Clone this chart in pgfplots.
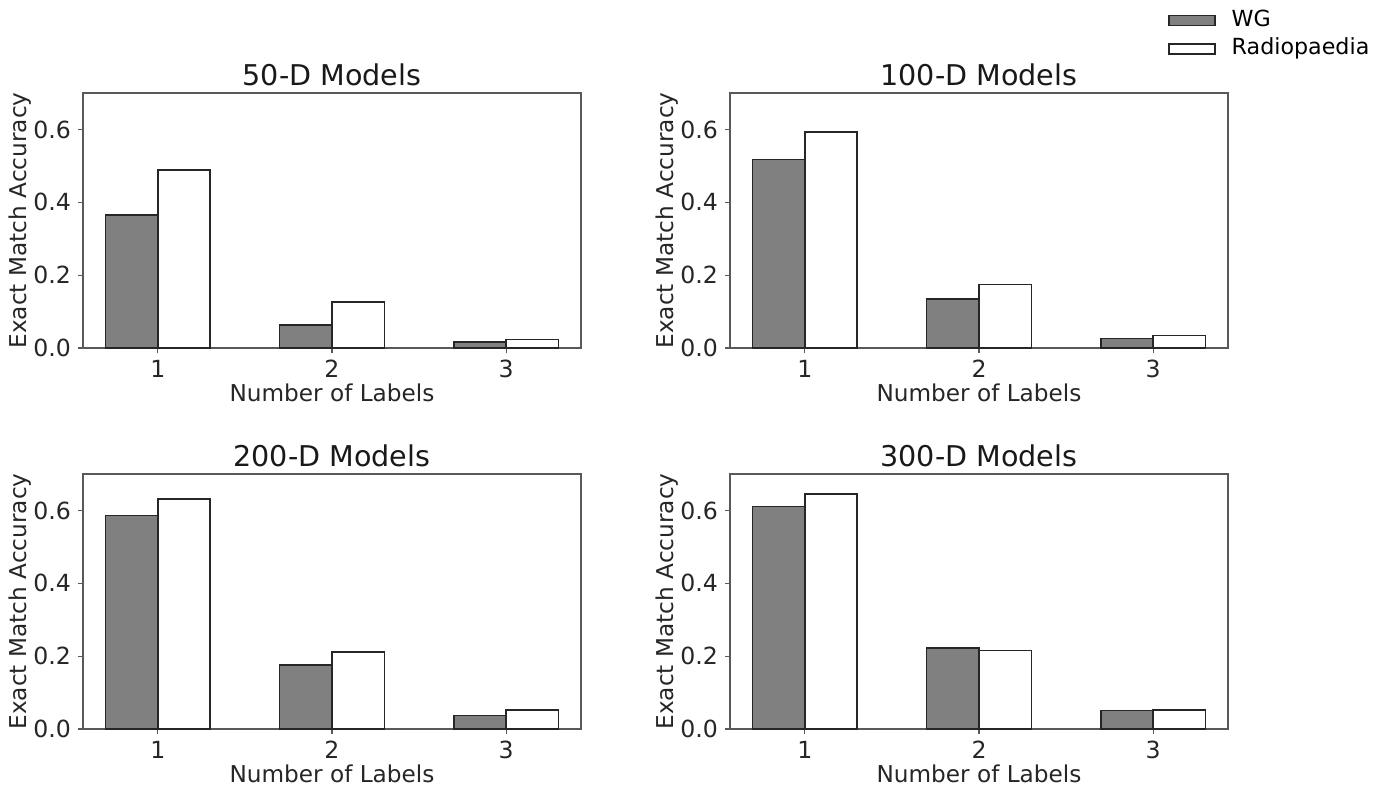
\documentclass[border=0pt]{standalone}
\usepackage{fontspec}
\setmainfont{DejaVu Sans}
\usepackage{pgfplots}
\pgfplotsset{compat=1.18}

\pgfplotsset{
  panel/.style={
    scale only axis, width=249pt, height=127.5pt,
    xmin=0.57, xmax=3.43, ymin=0, ymax=0.7,
    xtick={1,2,3}, ytick={0,0.2,0.4,0.6},
    xtick pos=bottom, ytick pos=left, tick align=outside,
    major tick length=2.5pt,
    axis line style={black!65, line width=0.6pt},
    tick style={black!65, line width=0.6pt},
    yticklabel style={/pgf/number format/.cd, fixed, fixed zerofill, precision=1},
    /pgf/number format/assume math mode=true,
    ticklabel style={font=\fontsize{11.8}{14}\selectfont, text=black!85},
    label style={font=\fontsize{11.6}{14}\selectfont, text=black!85},
    title style={font=\fontsize{14.3}{17}\selectfont, text=black!90, at={(axis description cs:0.5,1)}, anchor=base, yshift=-2pt},
    xlabel={Number of Labels}, ylabel={Exact Match Accuracy},
    xlabel style={at={(axis description cs:0.5,0)}, anchor=base, yshift=-26.5pt},
    ylabel style={at={(axis description cs:-0.1125,0.5)}, anchor=base},
  },
  wg/.style={ybar, bar width=0.3, bar shift=-0.15, fill=gray, draw=black!85, line width=0.7pt,
    legend image code/.code={\draw[fill=gray, draw=black!85, line width=0.7pt] (0pt,-2.5pt) rectangle (23pt,2.5pt);}},
  rp/.style={ybar, bar width=0.3, bar shift=0.15, fill=white, draw=black!85, line width=0.7pt,
    legend image code/.code={\draw[fill=white, draw=black!85, line width=0.7pt] (0pt,-2.5pt) rectangle (23pt,2.5pt);}},
}

\begin{document}
\begin{tikzpicture}
\useasboundingbox (0,0) rectangle (686.5pt,394.5pt);

% 50-D
\begin{axis}[panel, at={(41.5pt,220.5pt)}, anchor=south west, title={50-D Models}]
\addplot[wg] coordinates {(1,0.365) (2,0.063) (3,0.016)};
\addplot[rp] coordinates {(1,0.489) (2,0.126) (3,0.023)};
\end{axis}

% 100-D
\begin{axis}[panel, at={(365pt,220.5pt)}, anchor=south west, title={100-D Models},
  legend style={at={(axis description cs:0.8793,1.328)}, anchor=north west, draw=none, fill=none,
    font=\fontsize{11.1}{13}\selectfont, row sep=3.5pt, column sep=8pt, inner sep=0pt,
    nodes={inner sep=0pt, text height=8.3pt, text depth=2.4pt}},
  legend cell align=left]
\addplot[wg] coordinates {(1,0.517) (2,0.134) (3,0.026)};
\addplot[rp] coordinates {(1,0.593) (2,0.175) (3,0.035)};
\legend{WG, Radiopaedia}
\end{axis}

% 200-D
\begin{axis}[panel, at={(41.5pt,30pt)}, anchor=south west, title={200-D Models}]
\addplot[wg] coordinates {(1,0.586) (2,0.176) (3,0.037)};
\addplot[rp] coordinates {(1,0.631) (2,0.211) (3,0.052)};
\end{axis}

% 300-D
\begin{axis}[panel, at={(365pt,30pt)}, anchor=south west, title={300-D Models}]
\addplot[wg] coordinates {(1,0.611) (2,0.222) (3,0.051)};
\addplot[rp] coordinates {(1,0.645) (2,0.215) (3,0.052)};
\end{axis}
\end{tikzpicture}
\end{document}
